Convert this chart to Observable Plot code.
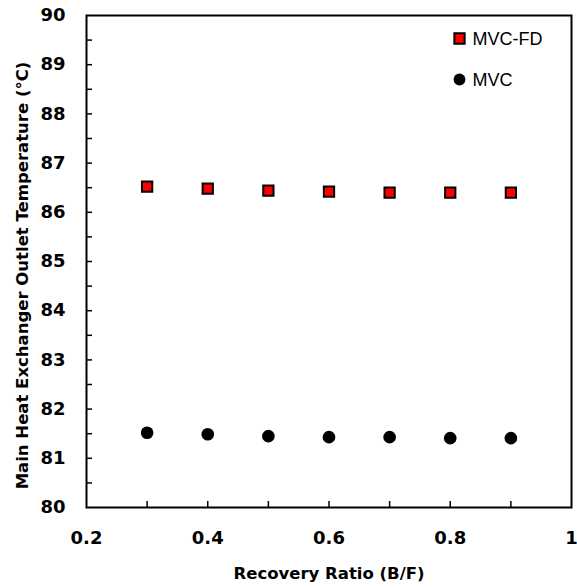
<!DOCTYPE html>
<html><head><meta charset="utf-8">
<script src="https://cdn.jsdelivr.net/npm/d3@7"></script>
<script src="https://cdn.jsdelivr.net/npm/@observablehq/plot@0.6"></script>
<style>body{margin:0;background:#fff}</style>
</head><body><div id="chart"></div>
<script>
const ratios = [0.3, 0.4, 0.5, 0.6, 0.7, 0.8, 0.9];
const mvcFD = [86.52, 86.48, 86.44, 86.42, 86.40, 86.40, 86.40];
const mvc = [81.52, 81.49, 81.45, 81.43, 81.43, 81.41, 81.41];
const seriesNames = ["MVC-FD", "MVC"];
const xLabelTicks = [0.2, 0.4, 0.6, 0.8, 1];
const xMinorTicks = [0.3, 0.4, 0.5, 0.6, 0.7, 0.8, 0.9];
const yLabelTicks = [80, 81, 82, 83, 84, 85, 86, 87, 88, 89, 90];
const yMinorTicks = [80.5, 81, 81.5, 82, 82.5, 83, 83.5, 84, 84.5, 85, 85.5, 86, 86.5, 87, 87.5, 88, 88.5, 89, 89.5];
const xTitle = "Recovery Ratio (B/F)";
const yTitle = "Main Heat Exchanger Outlet Temperature (°C)";

const fdData = ratios.map((r, i) => ({x: r, y: mvcFD[i]}));
const mvcData = ratios.map((r, i) => ({x: r, y: mvc[i]}));

const W = 577, H = 588, mL = 86, mR = 6, mT = 15, mB = 81;
const pw = W - mL - mR, ph = H - mT - mB;
const boldFont = "'DejaVu Sans', sans-serif";
const legendFont = "'Liberation Sans', Arial, sans-serif";

const chart = Plot.plot({
  width: W, height: H,
  marginLeft: mL, marginRight: mR, marginTop: mT, marginBottom: mB,
  style: {background: "#fff", color: "#000"},
  x: {domain: [0.2, 1]},
  y: {domain: [80, 90]},
  marks: [
    Plot.axisX(xLabelTicks, {anchor: "bottom", tickSize: 0, tickPadding: 24, fontSize: 18, fontWeight: "bold", fontFamily: boldFont, label: null, tickFormat: d => String(d)}),
    Plot.axisY(yLabelTicks, {anchor: "left", tickSize: 0, tickPadding: 21, fontSize: 18, fontWeight: "bold", fontFamily: boldFont, label: null}),
    Plot.tickX(xMinorTicks, {x: d => d, insetTop: ph - 6, stroke: "#000", strokeWidth: 1.5}),
    Plot.tickY(yMinorTicks, {y: d => d, insetRight: pw - 6, stroke: "#000", strokeWidth: 1.5}),
    Plot.frame({stroke: "#000", strokeWidth: 2}),
    Plot.dot(fdData, {x: "x", y: "y", symbol: "square", r: 5.8, fill: "#ff0000", stroke: "#000", strokeWidth: 2}),
    Plot.dot(mvcData, {x: "x", y: "y", symbol: "circle", r: 6.3, fill: "#000", stroke: "none"}),
    // legend
    Plot.dot([seriesNames[0]], {frameAnchor: "top-right", dx: -112, dy: 23, symbol: "square", r: 5.8, fill: "#ff0000", stroke: "#000", strokeWidth: 2}),
    Plot.dot([seriesNames[1]], {frameAnchor: "top-right", dx: -112, dy: 64, symbol: "circle", r: 5.9, fill: "#000", stroke: "none"}),
    Plot.text([seriesNames[0]], {text: d => d, frameAnchor: "top-right", dx: -99, dy: 24, textAnchor: "start", lineAnchor: "middle", fontSize: 18, fontFamily: legendFont, fill: "#000"}),
    Plot.text([seriesNames[1]], {text: d => d, frameAnchor: "top-right", dx: -99, dy: 65, textAnchor: "start", lineAnchor: "middle", fontSize: 18, fontFamily: legendFont, fill: "#000"}),
    // titles
    Plot.text([xTitle], {text: d => d, frameAnchor: "bottom", dy: 66, textAnchor: "middle", lineAnchor: "middle", fontSize: 16.5, fontWeight: "bold", fontFamily: boldFont, fill: "#000"}),
    Plot.text([yTitle], {text: d => d, frameAnchor: "left", dx: -64, dy: 14, rotate: -90, textAnchor: "middle", lineAnchor: "middle", fontSize: 16.5, fontWeight: "bold", fontFamily: boldFont, fill: "#000"})
  ]
});
document.getElementById("chart").appendChild(chart);
</script>
</body></html>
